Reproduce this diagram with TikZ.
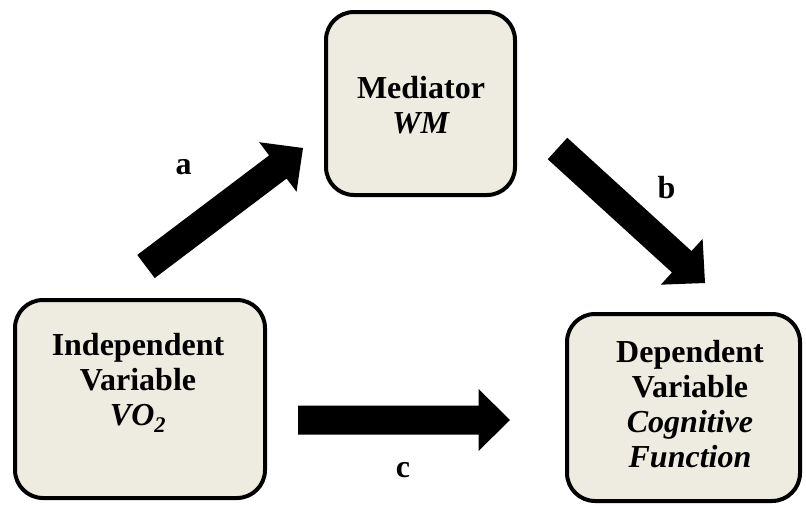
\documentclass[tikz,border=0pt]{standalone}
\usepackage{fontspec}
\setmainfont{Liberation Serif}
\usetikzlibrary{calc}
\definecolor{boxfill}{RGB}{238,236,225}
\tikzset{
  box/.style={draw=black, line width=4pt, fill=boxfill, rounded corners=28pt, inner sep=0pt},
  boxtext/.style={font=\fontsize{32}{35}\selectfont\bfseries, align=center, inner sep=0pt},
  lab/.style={font=\fontsize{32}{35}\selectfont\bfseries, inner sep=0pt},
}
\newcommand{\blockarrow}[2]{%
  \coordinate (hb-#1) at ($(#2)!31.5pt!(#1)$);
  \fill[black] ($(#1)!14.5pt!90:(#2)$) -- ($(hb-#1)!14.5pt!90:(#2)$) -- ($(hb-#1)!31pt!90:(#2)$) -- (#2)
    -- ($(hb-#1)!31pt!-90:(#2)$) -- ($(hb-#1)!14.5pt!-90:(#2)$) -- ($(#1)!14.5pt!-90:(#2)$) -- cycle;
}
\begin{document}
\begin{tikzpicture}[x=1pt,y=-1pt]
\useasboundingbox (0,0) rectangle (806,506);
% boxes
\node[box, minimum width=189pt, minimum height=183pt] (med) at (420.5,103.5) {};
\node[box, minimum width=250pt, minimum height=198pt] (iv) at (140,399) {};
\node[box, minimum width=233pt, minimum height=187pt] (dv) at (683.5,407.5) {};
% texts
\node[boxtext] (medtxt) at (421,105.5) {Mediator\\\textit{WM}};
\node[boxtext] (ivtxt) at (138,383) {Independent\\Variable\\\textit{VO\textsubscript{2}}};
\node[boxtext] (dvtxt) at (690,404) {Dependent\\Variable\\\textit{Cognitive}\\\textit{Function}};
% arrows
\coordinate (atail) at (146,266.5);
\coordinate (atip) at (303,148);
\coordinate (btail) at (557.5,148.5);
\coordinate (btip) at (705,283);
\coordinate (ctail) at (298,420);
\coordinate (ctip) at (510,420);
\blockarrow{atail}{atip}
\blockarrow{btail}{btip}
\blockarrow{ctail}{ctip}
% labels
\node[lab] (la) at (183.5,167) {a};
\node[lab] (lb) at (666.5,188) {b};
\node[lab] (lc) at (403,470) {c};
\end{tikzpicture}
\end{document}
